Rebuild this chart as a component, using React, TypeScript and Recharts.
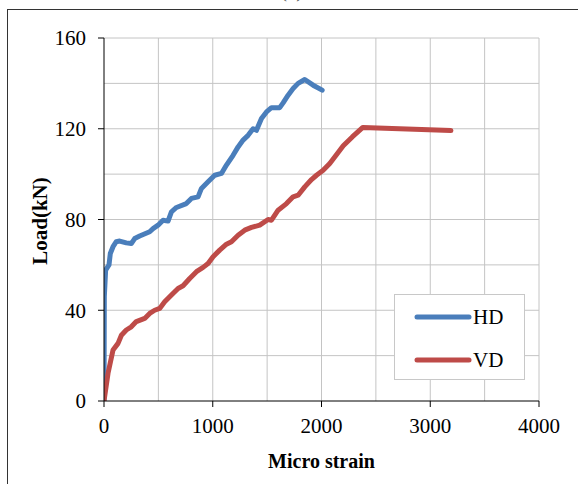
import { LineChart, Line, XAxis, YAxis, ReferenceLine } from 'recharts';

const FONT = '"Liberation Serif", "Times New Roman", serif';
const BLUE = '#4a7ebb';
const RED = '#be4b48';
const GRID = '#c4c4c4';

// HD series: micro strain vs load (kN)
const hdStrain = [0, 3, 15, 46, 58, 83, 113, 144, 205, 251, 282, 328, 420, 451, 497, 543, 589, 620, 666, 757, 804, 865, 896, 957, 1018, 1080, 1126, 1187, 1233, 1279, 1325, 1371, 1402, 1448, 1494, 1540, 1616, 1647, 1693, 1739, 1785, 1846, 1923, 2006];
const hdLoad = [0, 46, 57.7, 60, 65, 68, 70.2, 70.5, 69.7, 69.4, 71.6, 72.7, 74.6, 76, 77.5, 79.7, 79.3, 83.4, 85.3, 87, 89.3, 90, 93.7, 96.6, 99.5, 100.3, 104, 108.3, 112, 115, 117.1, 120, 119.3, 124.5, 127.4, 129.3, 129.3, 131.4, 134.8, 137.7, 140, 141.7, 139.2, 137];

// VD series
const vdStrain = [0, 37, 83, 129, 160, 205, 251, 297, 374, 420, 466, 512, 558, 620, 681, 727, 788, 850, 911, 957, 1003, 1064, 1126, 1172, 1233, 1294, 1356, 1432, 1509, 1540, 1601, 1678, 1739, 1785, 1846, 1908, 1954, 2015, 2076, 2153, 2200, 2283, 2380, 3190];
const vdLoad = [0, 12.2, 22.5, 25.4, 29, 31.3, 32.7, 35, 36.4, 38.6, 40, 40.8, 43.7, 46.7, 49.6, 50.8, 54, 57, 58.9, 60.6, 63.6, 66.5, 69.1, 70.2, 73.1, 75.3, 76.5, 77.5, 80, 79.7, 84.1, 87, 90, 90.7, 94.4, 97.6, 99.5, 101.7, 104.7, 109.5, 112.5, 116.4, 120.6, 119.2];

const xTicks = [0, 1000, 2000, 3000, 4000];
const yTicks = [0, 40, 80, 120, 160];
const gridX = [500, 1000, 1500, 2000, 2500, 3000, 3500, 4000];
const gridY = [20, 40, 60, 80, 100, 120, 140, 160];

const hdData = hdStrain.map((s, i) => ({ strain: s, load: hdLoad[i] }));
const vdData = vdStrain.map((s, i) => ({ strain: s, load: vdLoad[i] }));

const legendItems = [
  { name: 'HD', color: BLUE },
  { name: 'VD', color: RED },
];

function YLabel() {
  return (
    <text
      x={40}
      y={221}
      transform="rotate(-90 40 221)"
      textAnchor="middle"
      dominantBaseline="central"
      fontFamily={FONT}
      fontSize={21}
      fontWeight="bold"
      fill="#000"
    >
      Load(kN)
    </text>
  );
}

export default function App() {
  return (
    <div style={{ position: 'absolute', left: 0, top: 0, width: 578, height: 484, background: '#fff', fontFamily: FONT }}>
      {/* panel caption, cut off by the top edge as in the source figure */}
      <div style={{ position: 'absolute', left: 280, top: -20, fontSize: 21, lineHeight: '21px', color: '#555' }}>(a)</div>
      <div
        style={{
          position: 'absolute',
          left: 7,
          top: 9,
          width: 600,
          height: 500,
          borderLeft: '1px solid #333',
          borderTop: '1px solid #333',
        }}
      />
      <div style={{ position: 'absolute', left: 0, top: 0 }}>
        <LineChart width={578} height={484} margin={{ top: 38, right: 39, left: 44, bottom: 13 }}>
          {gridX.map((v) => (
            <ReferenceLine key={'gx' + v} x={v} stroke={GRID} strokeWidth={1} />
          ))}
          {gridY.map((v) => (
            <ReferenceLine key={'gy' + v} y={v} stroke={GRID} strokeWidth={1} />
          ))}
          <XAxis
            type="number"
            dataKey="strain"
            domain={[0, 4000]}
            ticks={xTicks}
            allowDataOverflow
            height={70}
            tickSize={6}
            tickMargin={11}
            axisLine={{ stroke: '#000' }}
            tickLine={{ stroke: '#000' }}
            tick={{ fill: '#000', fontSize: 21, fontFamily: FONT }}
            label={{
              value: 'Micro strain',
              position: 'insideBottom',
              offset: 3,
              fill: '#000',
              fontSize: 20,
              fontWeight: 'bold',
              fontFamily: FONT,
            }}
          />
          <YAxis
            type="number"
            dataKey="load"
            domain={[0, 160]}
            ticks={yTicks}
            allowDataOverflow
            width={60}
            tickSize={6}
            tickMargin={12}
            axisLine={{ stroke: '#000' }}
            tickLine={{ stroke: '#000' }}
            tick={{ fill: '#000', fontSize: 21, fontFamily: FONT }}
            label={{ content: () => <YLabel /> }}
          />
          <Line
            data={hdData}
            dataKey="load"
            name="HD"
            stroke={BLUE}
            strokeWidth={5}
            strokeLinecap="round"
            strokeLinejoin="round"
            dot={false}
            type="linear"
            isAnimationActive={false}
          />
          <Line
            data={vdData}
            dataKey="load"
            name="VD"
            stroke={RED}
            strokeWidth={5}
            strokeLinecap="round"
            strokeLinejoin="round"
            dot={false}
            type="linear"
            isAnimationActive={false}
          />
        </LineChart>
      </div>
      <div
        style={{
          position: 'absolute',
          left: 394,
          top: 294,
          width: 129,
          height: 84,
          background: '#fff',
          border: '1px solid #c8c8c8',
        }}
      >
        {legendItems.map((item, i) => (
          <div
            key={item.name}
            style={{ position: 'absolute', left: 19, top: 10 + i * 43, height: 24, display: 'flex', alignItems: 'center' }}
          >
            <svg width={58} height={10} style={{ display: 'block' }}>
              <line x1={3} y1={5} x2={55} y2={5} stroke={item.color} strokeWidth={5} strokeLinecap="round" />
            </svg>
            <span style={{ fontSize: 21, lineHeight: '24px', color: '#000', marginLeft: 1 }}>{item.name}</span>
          </div>
        ))}
      </div>
    </div>
  );
}
